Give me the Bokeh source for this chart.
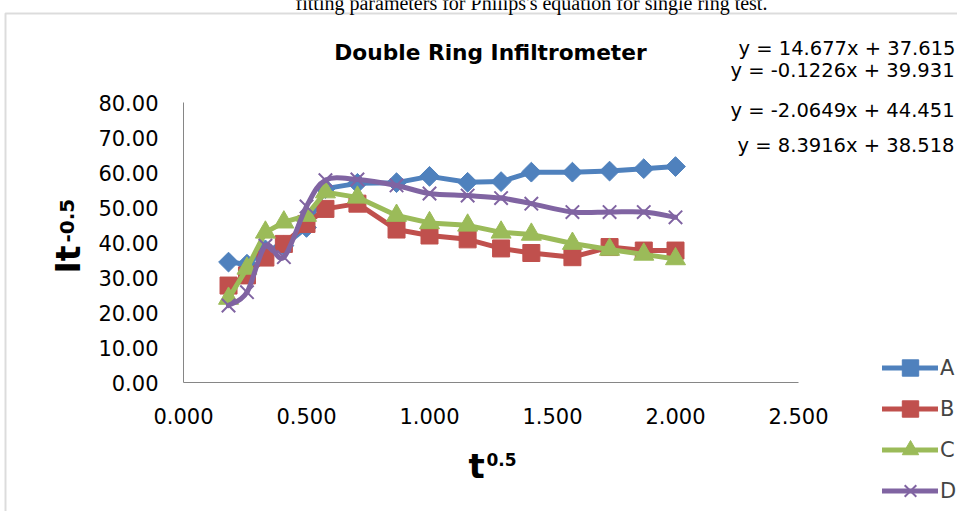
import numpy as np
from bokeh.plotting import figure
from bokeh.models import (Label, Legend, LegendItem, FixedTicker,
                          NumeralTickFormatter, BoxAnnotation, Range1d)
from bokeh.embed import file_html
from bokeh.resources import INLINE

# ---------------- data ----------------
t_sqrt = [0.183, 0.258, 0.333, 0.408, 0.500, 0.577, 0.707, 0.866,
          1.000, 1.155, 1.291, 1.414, 1.581, 1.732, 1.871, 2.000]
series_A = [34.4, 33.8, 37.9, 39.1, 44.3, 55.4, 56.9, 57.1,
            58.9, 57.2, 57.4, 60.1, 60.1, 60.4, 61.1, 61.7]
series_B = [27.7, 30.6, 35.7, 39.6, 45.3, 49.6, 51.1, 43.7,
            42.0, 40.9, 38.3, 37.0, 35.8, 38.7, 37.7, 37.7]
series_C = [24.0, 32.6, 42.9, 45.8, 47.7, 54.4, 52.9, 47.7,
            45.6, 44.9, 42.9, 42.3, 39.7, 38.0, 36.6, 35.3]
series_D = [22.0, 25.8, 39.1, 35.8, 50.3, 57.8, 58.0, 56.3,
            54.0, 53.4, 52.7, 51.1, 48.7, 48.7, 48.7, 47.2]
series_names = ["A", "B", "C", "D"]
equations = ["y = 14.677x + 37.615", "y = -0.1226x + 39.931",
             "y = -2.0649x + 44.451", "y = 8.3916x + 38.518"]
x_ticks = [0.0, 0.5, 1.0, 1.5, 2.0, 2.5]
y_ticks = [0, 10, 20, 30, 40, 50, 60, 70, 80]
chart_title = "Double Ring Infiltrometer"
caption = "fitting parameters for Philips's equation for single ring test."

# ---------------- layout (pixel positions of the data area) ----------------
W, H = 957, 511
FL, FR, FT, FB = 183, 798, 102, 382      # x=0, x=2.5, y=80, y=0
X0, X1, Y0, Y1 = 0.0, 2.5, 0.0, 80.0


def dx(fx):
    return X0 + (fx - FL) / (FR - FL) * (X1 - X0)


def dy(fy):
    return Y0 + (FB - fy) / (FB - FT) * (Y1 - Y0)


FONT = "DejaVu Sans"
BLUE, RED, GREEN, PURPLE = "#4F81BD", "#C0504D", "#9BBB59", "#8064A2"

# the frame covers the whole canvas; axes are pinned at x=0 / y=0
p = figure(width=W, height=H, title=None,
           x_range=Range1d(dx(0), dx(W)), y_range=Range1d(dy(H), dy(0)),
           output_backend="svg", toolbar_location=None, min_border=0)
p.outline_line_color = None
p.xgrid.visible = False
p.ygrid.visible = False
p.background_fill_color = "white"
p.border_fill_color = "white"

for ax in (p.xaxis, p.yaxis):
    ax.axis_line_color = "#868686"
    ax.axis_line_width = 1
    ax.major_tick_line_color = None
    ax.minor_tick_line_color = None
    ax.major_tick_in = 0
    ax.major_tick_out = 0
    ax.minor_tick_in = 0
    ax.minor_tick_out = 0
    ax.major_label_text_font = FONT
    ax.major_label_text_font_size = "21px"
    ax.major_label_text_color = "black"
p.xaxis.fixed_location = Y0
p.yaxis.fixed_location = X0
p.xaxis.bounds = (X0, X1)
p.yaxis.bounds = (Y0, Y1)
p.xaxis.ticker = FixedTicker(ticks=x_ticks)
p.yaxis.ticker = FixedTicker(ticks=y_ticks)
p.xaxis.formatter = NumeralTickFormatter(format="0.000")
p.yaxis.formatter = NumeralTickFormatter(format="0.00")
p.xaxis.major_label_standoff = 25
p.yaxis.major_label_standoff = 25

# ---------------- series ----------------
lw = 5
lA = p.line(t_sqrt, series_A, line_color=BLUE, line_width=lw, line_join="round", line_cap="round")
sA = p.scatter(t_sqrt, series_A, marker="square", angle=np.pi / 4, size=14,
               fill_color=BLUE, line_color=BLUE)
lB = p.line(t_sqrt, series_B, line_color=RED, line_width=lw, line_join="round", line_cap="round")
sB = p.scatter(t_sqrt, series_B, marker="square", size=17, fill_color=RED, line_color=RED)
lC = p.line(t_sqrt, series_C, line_color=GREEN, line_width=lw, line_join="round", line_cap="round")
sC = p.scatter(t_sqrt, series_C, marker="triangle", size=20, fill_color=GREEN, line_color=GREEN)

# smoothed line for D (Catmull-Rom -> cubic Bezier, as the spreadsheet does)
xs = np.asarray(t_sqrt, dtype=float)
ys = np.asarray(series_D, dtype=float)
n = len(xs)
xp = np.concatenate([[xs[0]], xs, [xs[-1]]])
yp = np.concatenate([[ys[0]], ys, [ys[-1]]])
cx0 = xs[:-1] + (xp[2:n + 1] - xp[0:n - 1]) / 6.0
cy0 = ys[:-1] + (yp[2:n + 1] - yp[0:n - 1]) / 6.0
cx1 = xs[1:] - (xp[3:n + 2] - xp[1:n]) / 6.0
cy1 = ys[1:] - (yp[3:n + 2] - yp[1:n]) / 6.0
lD = p.bezier(x0=xs[:-1], y0=ys[:-1], x1=xs[1:], y1=ys[1:],
              cx0=cx0, cy0=cy0, cx1=cx1, cy1=cy1,
              line_color=PURPLE, line_width=lw, line_cap="round")
sD = p.scatter(t_sqrt, series_D, marker="x", size=19, line_color=PURPLE, line_width=2)

# ---------------- legend ----------------
legend = Legend(items=[LegendItem(label=series_names[0], renderers=[lA, sA]),
                       LegendItem(label=series_names[1], renderers=[lB, sB]),
                       LegendItem(label=series_names[2], renderers=[lC, sC]),
                       LegendItem(label=series_names[3], renderers=[lD, sD])],
                location=(882, 0), orientation="vertical",
                glyph_width=56, glyph_height=41, spacing=0, padding=0, margin=0,
                label_standoff=2, label_text_font=FONT, label_text_font_size="21px",
                border_line_color=None, background_fill_alpha=0)
p.add_layout(legend)

# ---------------- chart box ----------------
p.add_layout(BoxAnnotation(left=dx(5), right=dx(3000), top=dy(13), bottom=dy(3000),
                           fill_alpha=0, line_color="#8c8c8c", line_width=2))

# ---------------- texts ----------------
# (this renderer draws an "alphabetic" baseline about 0.35 em lower than asked)
def lab(px, py, text, size, bold=False, font=FONT, align="left", rot=False):
    shift = 0.35 * size
    if rot:
        px = px - shift
    else:
        py = py - shift
    p.add_layout(Label(x=dx(px), y=dy(py), text=text, text_font=font,
                       text_font_style="bold" if bold else "normal",
                       text_font_size=f"{size}px", text_align=align,
                       text_baseline="alphabetic", text_color="black",
                       angle=np.pi / 2 if rot else 0))


lab(531, 9, caption, 20, font="Liberation Serif", align="center")
lab(490, 60, chart_title, 21.7, bold=True, align="center")
eq_pos = [(738, 55), (730, 77), (730, 117), (737, 152)]
for (ex, ey), eq in zip(eq_pos, equations):
    lab(ex, ey, eq, 19.5)

# x axis title t^0.5
lab(468, 477, "t", 34, bold=True)
lab(486, 465, "0.5", 17, bold=True)
# y axis title It^-0.5 (rotated)
lab(80, 273, "It", 33, bold=True, rot=True)
lab(73, 242, "-0.5", 20, bold=True, rot=True)

open("out.html", "w").write(file_html(p, INLINE))
